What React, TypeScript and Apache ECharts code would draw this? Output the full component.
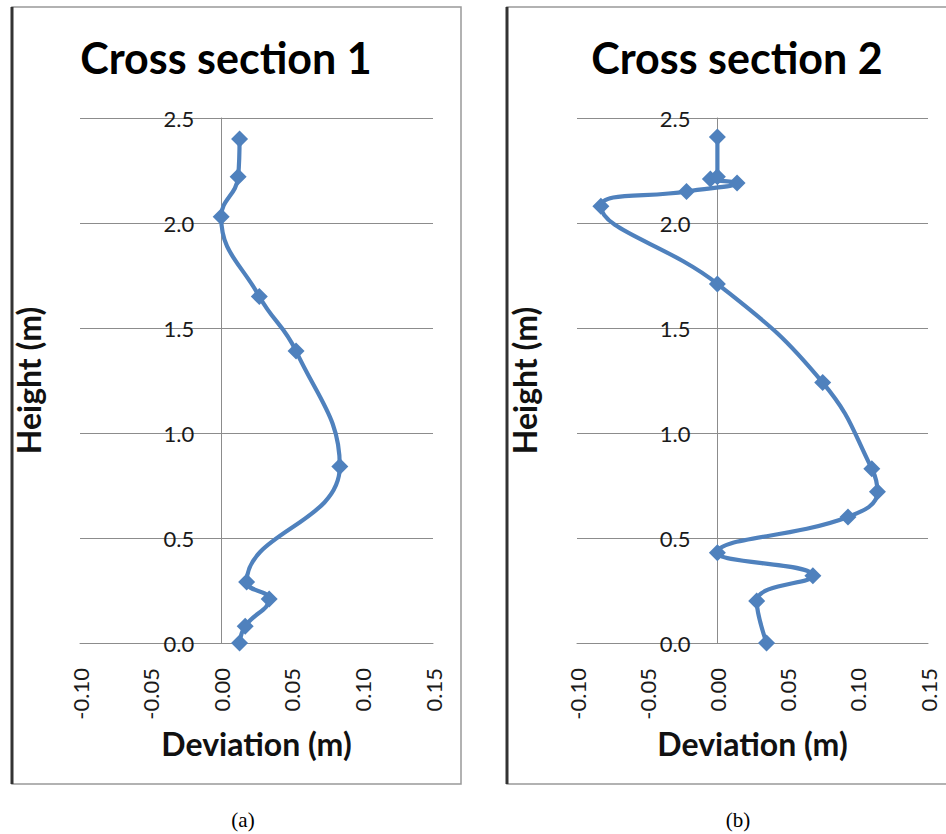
import React, { useEffect, useRef } from "react";
import * as echarts from "echarts";

// Cross section 1: [deviation (m), height (m)]
const section1Deviation = [0.013, 0.017, 0.034, 0.018, 0.084, 0.053, 0.027, 0.0, 0.012, 0.013];
const section1Height = [0.0, 0.08, 0.21, 0.29, 0.84, 1.39, 1.65, 2.03, 2.22, 2.4];

// Cross section 2
const section2Deviation = [0.035, 0.028, 0.068, 0.0, 0.093, 0.114, 0.11, 0.075, 0.0, -0.083, -0.022, 0.014, -0.005, 0.0, 0.0];
const section2Height = [0.0, 0.2, 0.32, 0.43, 0.6, 0.72, 0.83, 1.24, 1.71, 2.08, 2.15, 2.19, 2.21, 2.22, 2.41];

const xTicks = [-0.1, -0.05, 0.0, 0.05, 0.1, 0.15];
const yTicks = [0.0, 0.5, 1.0, 1.5, 2.0, 2.5];
const titles = ["Cross section 1", "Cross section 2"];
const captions = ["(a)", "(b)"];
const xName = "Deviation (m)";
const yName = "Height (m)";

const BLUE = "#4F81BD";
const GRID = "#8c8c8c";
const FONT = "Lato, 'Open Sans', sans-serif";

export default function App() {
  const ref = useRef<HTMLDivElement>(null);
  useEffect(() => {
    if (!ref.current) return;
    const chart = echarts.init(ref.current, undefined, { renderer: "svg" });
    const pair = (xs: number[], ys: number[]) => xs.map((x, i) => [x, ys[i]]);
    const xMin = xTicks[0];
    const xMax = xTicks[xTicks.length - 1];
    const grids = [
      { left: 80, top: 118, width: 353, height: 525, outerBoundsMode: "none", containLabel: false },
      { left: 577, top: 118, width: 351, height: 525, outerBoundsMode: "none", containLabel: false },
    ];
    const xAxis = grids.map((_, i) => ({
      type: "value",
      gridIndex: i,
      min: xMin,
      max: xMax,
      interval: 0.05,
      splitLine: { show: false },
      axisTick: { show: false },
      axisLine: { show: true, onZero: false, lineStyle: { color: GRID, width: 1 } },
      axisLabel: {
        rotate: 90,
        margin: 25,
        fontFamily: FONT,
        fontSize: 22,
        color: "#1a1a1a",
        formatter: (v: number) => v.toFixed(2),
      },
      name: xName,
      nameLocation: "middle",
      nameGap: 82,
      nameTextStyle: { fontFamily: FONT, fontWeight: "bold", fontSize: 32, color: "#111" },
    }));
    // y axis sits where deviation = 0 (shifted from the grid's left edge by the x scale)
    const yAxis = grids.map((g, i) => ({
      type: "value",
      gridIndex: i,
      min: yTicks[0],
      max: yTicks[yTicks.length - 1],
      interval: 0.5,
      offset: -g.width * (0 - xMin) / (xMax - xMin),
      splitLine: { show: true, lineStyle: { color: GRID, width: 1 } },
      axisTick: { show: false },
      axisLine: { show: true, onZero: false, lineStyle: { color: GRID, width: 1 } },
      axisLabel: {
        margin: 27,
        fontFamily: FONT,
        fontSize: 22,
        color: "#1a1a1a",
        formatter: (v: number) => v.toFixed(1),
      },
      name: yName,
      nameLocation: "middle",
      nameGap: 177,
      nameTextStyle: { fontFamily: FONT, fontWeight: "bold", fontSize: 32, color: "#111" },
    }));
    const seriesData = [pair(section1Deviation, section1Height), pair(section2Deviation, section2Height)];
    const series = seriesData.map((d, i) => ({
      type: "line",
      xAxisIndex: i,
      yAxisIndex: i,
      data: d,
      smooth: 0.45,
      symbol: "diamond",
      symbolSize: 17,
      showSymbol: true,
      lineStyle: { color: BLUE, width: 4.2 },
      itemStyle: { color: BLUE },
      z: 5,
    }));
    const frames = [
      { x: 12, y: 7, w: 449, h: 777 },
      { x: 507, y: 7, w: 460, h: 777 },
    ];
    const graphic: any[] = [];
    frames.forEach((f, i) => {
      graphic.push({
        type: "rect",
        shape: { x: f.x, y: f.y, width: f.w, height: f.h },
        style: { fill: "none", stroke: "#999", lineWidth: 1.5 },
        z: -1,
      });
      graphic.push({
        type: "line",
        shape: { x1: f.x, y1: f.y, x2: f.x, y2: f.y + f.h },
        style: { stroke: "#333", lineWidth: 3 },
        z: -1,
      });
      graphic.push({
        type: "text",
        x: [226, 737][i],
        y: 57,
        style: {
          text: titles[i],
          fontFamily: FONT,
          fontWeight: "bold",
          fontSize: 43,
          fill: "#000",
          align: "center",
          verticalAlign: "middle",
        },
      });
      graphic.push({
        type: "text",
        x: [243, 738][i],
        y: 820,
        style: {
          text: captions[i],
          fontFamily: "'Liberation Serif', 'DejaVu Serif', serif",
          fontSize: 21,
          fill: "#000",
          align: "center",
          verticalAlign: "middle",
        },
      });
    });
    chart.setOption({
      animation: false,
      backgroundColor: "#fff",
      grid: grids,
      xAxis,
      yAxis,
      series,
      graphic,
    });
    return () => chart.dispose();
  }, []);
  return (
    <div
      ref={ref}
      style={{ position: "absolute", left: 0, top: 0, width: 946, height: 834 }}
    />
  );
}
